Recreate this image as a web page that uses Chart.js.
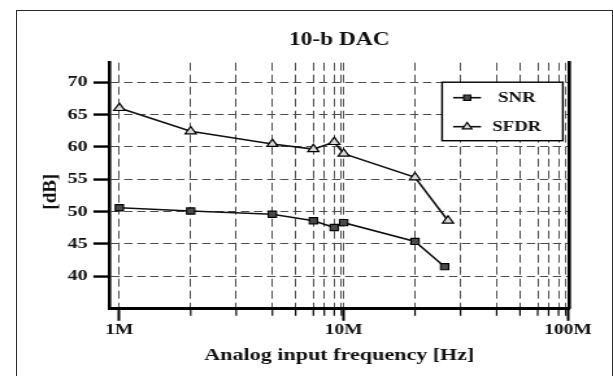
<!DOCTYPE html>
<html>
<head>
<meta charset="utf-8">
<script src="https://cdn.jsdelivr.net/npm/chart.js@4/dist/chart.umd.min.js"></script>
<style>
  html, body { margin: 0; padding: 0; background: #fff; overflow: hidden; }
  #frame { position: absolute; left: 15.5px; top: 9.5px; width: 595px; height: 420px; border: 1.5px solid #2b2b2b; }
  /* the source figure is stretched sideways, so the whole canvas is too */
  #wrap { position: absolute; left: 0; top: 0; width: 472px; height: 376px; transform: scaleX(1.2987); transform-origin: 0 0; }
</style>
</head>
<body>
<div id="frame"></div>
<div id="wrap"><canvas id="dacChart" width="472" height="376" style="width:472px;height:376px"></canvas></div>
<script>
// ── Dados ────────────────────────────────────────────────────────
const snrFreqMHz  = [1, 2.08, 4.81, 7.33, 9.08, 10, 20.8, 28.2];
const snrDb       = [50.6, 50.1, 49.6, 48.6, 47.55, 48.3, 45.4, 41.5];
const sfdrFreqMHz = [1, 2.08, 4.81, 7.33, 9.08, 10, 20.8, 29.2];
const sfdrDb      = [66.0, 62.4, 60.45, 59.65, 60.75, 58.95, 55.3, 48.6];

// eixo x: décadas com rótulo + linhas de grade intermediárias (posições da figura)
const xMajorTicks  = [1e6, 1e7, 1e8];
const xMajorLabels = ['1M', '10M', '100M'];
const xMinorSteps  = [2.08, 3.32, 4.81, 6.11, 7.33, 8.20, 9.08, 9.77];
const yTicks       = [40, 45, 50, 55, 60, 65, 70];

const SERIF = "'Liberation Serif', 'Times New Roman', serif";
const S = 613 / 472; // esticamento horizontal aplicado via CSS

const xGridVals = [];
xMajorTicks.forEach((d, i) => {
  xGridVals.push(d);
  if (i < xMajorTicks.length - 1) xMinorSteps.forEach(m => xGridVals.push(m * d));
});

// ── Plugin: marcas menores do eixo x, título do eixo y e legenda em caixa ──
const overlayPlugin = {
  id: 'overlay',
  afterDraw(chart) {
    const { ctx, chartArea: a, scales } = chart;
    const xs = scales.x;
    ctx.save();

    // marcas curtas abaixo do eixo x
    ctx.strokeStyle = '#000';
    ctx.lineWidth = 1.2;
    xs.ticks.forEach(t => {
      if (t.major) return;
      const px = xs.getPixelForValue(t.value);
      ctx.beginPath();
      ctx.moveTo(px, a.bottom);
      ctx.lineTo(px, a.bottom + 7);
      ctx.stroke();
    });

    // título do eixo y (sem esticar)
    ctx.save();
    ctx.translate(39.3, (a.top + a.bottom) / 2 + 6);
    ctx.scale(1 / S, 1);
    ctx.rotate(-Math.PI / 2);
    ctx.font = `bold 19px ${SERIF}`;
    ctx.fillStyle = '#111';
    ctx.textAlign = 'center';
    ctx.textBaseline = 'middle';
    ctx.fillText('[dB]', 0, 0);
    ctx.restore();

    // legenda
    const bx = a.right - 98, by = a.top + 19.5, bw = 93, bh = 58.5;
    ctx.fillStyle = '#fff';
    ctx.fillRect(bx, by, bw, bh);
    ctx.strokeStyle = '#000';
    ctx.lineWidth = 1.4;
    ctx.strokeRect(bx, by, bw, bh);

    const rowY = [by + 15.5, by + 44.5];
    chart.data.datasets.forEach((ds, i) => {
      const y = rowY[i];
      ctx.strokeStyle = ds.borderColor;
      ctx.lineWidth = ds.borderWidth;
      ctx.beginPath();
      ctx.moveTo(bx + 8.5, y);
      ctx.lineTo(bx + 30, y);
      ctx.stroke();
      ctx.fillStyle = ds.pointBackgroundColor;
      ctx.strokeStyle = ds.pointBorderColor;
      ctx.lineWidth = ds.pointBorderWidth;
      Chart.helpers.drawPoint(ctx, {
        pointStyle: ds.pointStyle, radius: ds.pointRadius * 0.85, rotation: 0, borderWidth: ds.pointBorderWidth
      }, bx + 19.3, y);
      ctx.fillStyle = '#111';
      ctx.font = `bold 14.5px ${SERIF}`;
      ctx.textAlign = 'center';
      ctx.textBaseline = 'middle';
      ctx.fillText(ds.label, bx + 57.5, y + 1);
    });
    ctx.restore();
  }
};

new Chart(document.getElementById('dacChart'), {
  type: 'line',
  data: {
    datasets: [
      {
        label: 'SNR',
        data: snrFreqMHz.map((f, i) => ({ x: f * 1e6, y: snrDb[i] })),
        borderColor: '#111',
        borderWidth: 1.6,
        pointStyle: 'rect',
        pointRadius: 4.4,
        pointBackgroundColor: '#4a4a4a',
        pointBorderColor: '#000',
        pointBorderWidth: 1.1,
        tension: 0
      },
      {
        label: 'SFDR',
        data: sfdrFreqMHz.map((f, i) => ({ x: f * 1e6, y: sfdrDb[i] })),
        borderColor: '#111',
        borderWidth: 1.6,
        pointStyle: 'triangle',
        pointRadius: 4.9,
        pointBackgroundColor: '#d9d9d9',
        pointBorderColor: '#000',
        pointBorderWidth: 1.2,
        tension: 0
      }
    ]
  },
  options: {
    responsive: false,
    animation: false,
    events: [],
    layout: { padding: { left: 0, right: 33.6, top: 0, bottom: 0 } },
    plugins: {
      legend: { display: false },
      tooltip: { enabled: false },
      title: {
        display: true,
        text: '10-b DAC',
        fullSize: false,
        color: '#111',
        font: { family: SERIF, size: 18, weight: 'bold', lineHeight: 1.2 },
        padding: { top: 29.2, bottom: 11.9 }
      }
    },
    scales: {
      x: {
        type: 'logarithmic',
        min: 0.9025e6,
        max: 1.0145e8,
        afterBuildTicks: s => { s.ticks = xGridVals.map(v => ({ value: v, major: xMajorTicks.includes(v) })); },
        afterFit: s => { s.height = 67.2; },
        grid: {
          color: '#4d4d4d',
          lineWidth: 1,
          tickLength: 12,
          tickWidth: 2,
          tickColor: c => (c.tick && c.tick.major ? '#000' : 'rgba(0,0,0,0)'),
          tickBorderDash: []
        },
        border: { color: '#000', width: 3, dash: [8, 4] },
        ticks: {
          autoSkip: false,
          maxRotation: 0,
          minRotation: 0,
          padding: 0.5,
          color: '#111',
          font: { family: SERIF, size: 15, weight: 'bold' },
          callback: v => {
            const i = xMajorTicks.indexOf(v);
            return i >= 0 ? xMajorLabels[i] : '';
          }
        },
        title: {
          display: true,
          text: 'Analog input frequency [Hz]',
          color: '#111',
          font: { family: SERIF, size: 17, weight: 'bold', lineHeight: 1.2 },
          padding: { top: 0, bottom: 9.8 }
        }
      },
      y: {
        type: 'linear',
        min: 35,
        max: 73,
        afterBuildTicks: s => { s.ticks = yTicks.map(v => ({ value: v })); },
        afterFit: s => { s.width = 84.2; },
        grid: {
          color: '#4d4d4d',
          lineWidth: 1.1,
          tickLength: 12.3,
          tickWidth: 2.4,
          tickColor: '#000',
          tickBorderDash: []
        },
        border: { color: '#000', width: 2.6, dash: [6.5, 3.5] },
        ticks: {
          padding: 4.5,
          color: '#111',
          font: { family: SERIF, size: 15.5, weight: 'bold' }
        }
      },
      yRight: {
        type: 'linear',
        position: 'right',
        min: 35,
        max: 73,
        afterFit: s => { s.width = 0; },
        grid: { display: true, drawOnChartArea: false, drawTicks: false },
        border: { color: '#000', width: 2.6 },
        ticks: { display: false }
      }
    }
  },
  plugins: [overlayPlugin]
});
</script>
</body>
</html>
